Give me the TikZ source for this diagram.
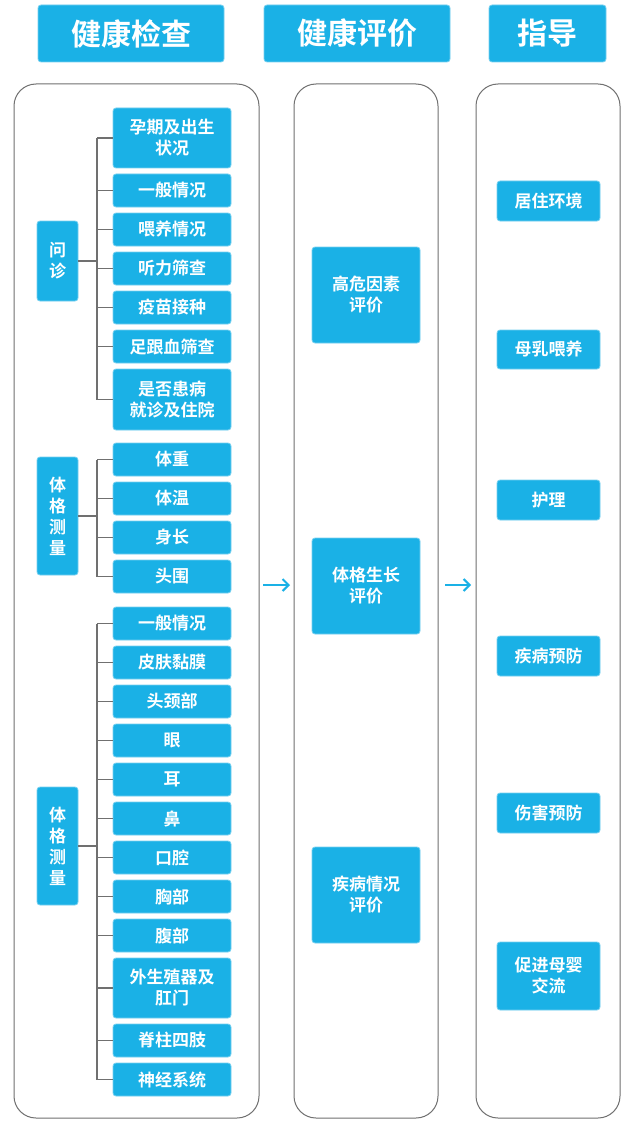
\documentclass[tikz,border=0pt]{standalone}
\usepackage{fontspec}
\newfontfamily\cjk{Noto Sans CJK SC}[BoldFont={Noto Sans CJK SC Bold}]
\usetikzlibrary{arrows.meta}
\definecolor{cb}{HTML}{1AB1E6}
\definecolor{pan}{HTML}{707070}
\begin{document}
\begin{tikzpicture}[x=1pt,y=-1pt,
  bx/.style={fill=cb,draw=cb!60!white,line width=0.8pt,rounded corners=3pt,text=white,font=\cjk\bfseries\fontsize{17}{21}\selectfont,align=center,inner sep=0pt},
  panel/.style={draw=pan,line width=1pt,rounded corners=22pt},
  br/.style={draw=pan,line width=1.2pt},
  arr/.style={draw=cb,line width=2pt,-{Straight Barb[length=6pt,width=12pt]}}]
\useasboundingbox[fill=white] (0,0) rectangle (640,1126);
\newcommand\bb[5]{\node[bx,minimum width={#3-#2},minimum height={#5-#4}] (#1) at ({(#2+#3)/2},{(#4+#5)/2})}
% headers
\bb{h1}{38}{224}{5}{62}[font=\cjk\bfseries\fontsize{30}{34}\selectfont]{健康检查};
\bb{h2}{264}{450}{5}{62}[font=\cjk\bfseries\fontsize{30}{34}\selectfont]{健康评价};
\bb{h3}{489}{606}{5}{62}[font=\cjk\bfseries\fontsize{30}{34}\selectfont]{指导};
% panels
\draw[panel] (14,84) rectangle (259,1118);
\draw[panel] (294,84) rectangle (438,1118);
\draw[panel] (476,84) rectangle (620,1118);
% group 1
\bb{a1}{113}{231}{108}{168}{孕期及出生\\状况};
\bb{a2}{113}{231}{174}{207}{一般情况};
\bb{a3}{113}{231}{213}{246}{喂养情况};
\bb{a4}{113}{231}{252}{285}{听力筛查};
\bb{a5}{113}{231}{291}{324}{疫苗接种};
\bb{a6}{113}{231}{330}{363}{足跟血筛查};
\bb{a7}{113}{231}{369}{430}{是否患病\\就诊及住院};
\bb{g1}{37}{78}{221}{301}{问\\诊};
% group 2
\bb{b1}{113}{231}{443}{476}{体重};
\bb{b2}{113}{231}{482}{515}{体温};
\bb{b3}{113}{231}{521}{554}{身长};
\bb{b4}{113}{231}{560}{593}{头围};
\bb{g2}{37}{78}{457}{575}{体\\格\\测\\量};
% group 3
\bb{c1}{113}{231}{607}{640}{一般情况};
\bb{c2}{113}{231}{646}{679}{皮肤黏膜};
\bb{c3}{113}{231}{685}{718}{头颈部};
\bb{c4}{113}{231}{724}{757}{眼};
\bb{c5}{113}{231}{763}{796}{耳};
\bb{c6}{113}{231}{802}{835}{鼻};
\bb{c7}{113}{231}{841}{874}{口腔};
\bb{c8}{113}{231}{880}{913}{胸部};
\bb{c9}{113}{231}{919}{952}{腹部};
\bb{c10}{113}{231}{958}{1018}{外生殖器及\\肛门};
\bb{c11}{113}{231}{1024}{1057}{脊柱四肢};
\bb{c12}{113}{231}{1063}{1096}{神经系统};
\bb{g3}{37}{78}{787}{905}{体\\格\\测\\量};
% brackets
\foreach \g/\f/\l/\list in {g1/a1/a7/{a1,a2,a3,a4,a5,a6,a7},g2/b1/b4/{b1,b2,b3,b4},g3/c1/c12/{c1,c2,c3,c4,c5,c6,c7,c8,c9,c10,c11,c12}}{
  \draw[br] (\g.east) -- (97,0 |- \g.east);
  \draw[br] (97,0 |- \f.west) -- (97,0 |- \l.west);
  \foreach \i in \list {\draw[br] (97,0 |- \i.west) -- (\i.west);}
}
% middle
\bb{m1}{312}{420}{247}{343}{高危因素\\评价};
\bb{m2}{312}{420}{538}{634}{体格生长\\评价};
\bb{m3}{312}{420}{847}{943}{疾病情况\\评价};
% right
\bb{r1}{497}{600}{181}{221}{居住环境};
\bb{r2}{497}{600}{330}{369}{母乳喂养};
\bb{r3}{497}{600}{480}{520}{护理};
\bb{r4}{497}{600}{636}{676}{疾病预防};
\bb{r5}{497}{600}{793}{833}{伤害预防};
\bb{r6}{497}{600}{942}{1010}{促进母婴\\交流};
% arrows
\coordinate (p1) at (263,585); \coordinate (p2) at (290,585);
\coordinate (q1) at (445,585); \coordinate (q2) at (471,585);
\draw[arr] (p1) -- (p2);
\draw[arr] (q1) -- (q2);
\end{tikzpicture}
\end{document}
